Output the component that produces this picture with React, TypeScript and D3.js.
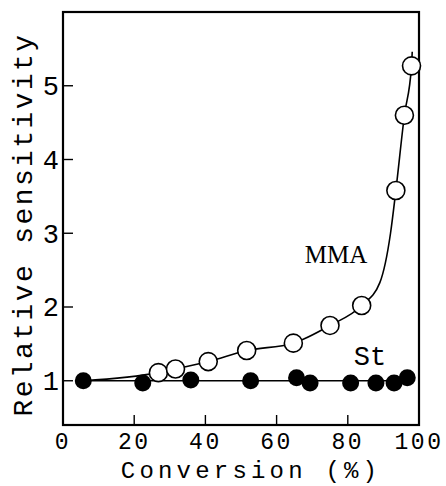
import React from 'react'
import * as d3 from 'd3'

// MMA (open circles)
const mmaConv = [26.8, 31.6, 40.8, 51.6, 64.7, 75.0, 83.9, 93.5, 95.9, 97.9]
const mmaSens = [1.11, 1.16, 1.26, 1.41, 1.51, 1.75, 2.02, 3.58, 4.6, 5.27]
// curve drawn through the MMA points
const mmaLineConv = [5.7, 26.8, 31.6, 40.8, 51.6, 64.7, 75.0, 83.9, 89.0, 92.0, 93.5, 95.9, 97.9, 98.1]
const mmaLineSens = [1.0, 1.11, 1.16, 1.26, 1.41, 1.51, 1.75, 2.02, 2.33, 3.0, 3.58, 4.6, 5.27, 5.46]

// St (filled circles)
const stConv = [5.7, 22.4, 35.9, 52.7, 65.6, 69.4, 80.8, 87.9, 93.0, 96.7]
const stSens = [1.0, 0.97, 1.01, 1.0, 1.04, 0.97, 0.97, 0.97, 0.97, 1.04]
const stLineConv = [5.7, 96.7]
const stLineSens = [1.0, 1.0]

const xTicks = [0, 20, 40, 60, 80, 100]
const yTicks = [1, 2, 3, 4, 5]

const width = 446
const height = 486
const margin = { top: 12, right: 27, bottom: 61, left: 63 }
const mono = "'Liberation Mono', 'DejaVu Sans Mono', monospace"
const serif = "'Liberation Serif', 'DejaVu Serif', serif"

export default function App() {
  const x = d3
    .scaleLinear()
    .domain([0, 100])
    .range([margin.left, width - margin.right])
  const y = d3
    .scaleLinear()
    .domain([0.4, 6.0])
    .range([height - margin.bottom, margin.top])

  const mmaLine = d3
    .line<number>()
    .x(i => x(mmaLineConv[i]))
    .y(i => y(mmaLineSens[i]))
    .curve(d3.curveMonotoneX)
  const stLine = d3
    .line<number>()
    .x(i => x(stLineConv[i]))
    .y(i => y(stLineSens[i]))

  const x0 = margin.left
  const x1 = width - margin.right
  const y0 = height - margin.bottom
  const y1 = margin.top

  return (
    <svg
      width={width}
      height={height}
      style={{ position: 'absolute', left: 0, top: 0, background: '#fff' }}
    >
      <rect x={0} y={0} width={width} height={height} fill="#fff" />
      {/* frame */}
      <rect
        x={x0}
        y={y1}
        width={x1 - x0}
        height={y0 - y1}
        fill="none"
        stroke="#000"
        strokeWidth={2.2}
      />
      {/* ticks */}
      {xTicks.slice(1, -1).map(t => (
        <line key={'xt' + t} x1={x(t)} x2={x(t)} y1={y0} y2={y0 - 10} stroke="#000" strokeWidth={1.4} />
      ))}
      {yTicks.map(t => (
        <line key={'yt' + t} x1={x0} x2={x0 + 10} y1={y(t)} y2={y(t)} stroke="#000" strokeWidth={1.4} />
      ))}
      {xTicks.map(t => (
        <text
          key={'xl' + t}
          x={x(t)}
          y={y0 + 24}
          textAnchor="middle"
          fontFamily={mono}
          fontSize={23}
          letterSpacing={2.5}
        >
          {t}
        </text>
      ))}
      {yTicks.map(t => (
        <text
          key={'yl' + t}
          x={x0 - 4}
          y={y(t)}
          dy="0.35em"
          textAnchor="end"
          fontFamily={mono}
          fontSize={27}
        >
          {t}
        </text>
      ))}
      {/* axis titles */}
      <text
        x={(x0 + x1) / 2 + 10}
        y={y0 + 53}
        textAnchor="middle"
        fontFamily={mono}
        fontSize={24}
        letterSpacing={4.2}
      >
        Conversion (%)
      </text>
      <text
        transform={`translate(32,${(y0 + y1) / 2 + 6}) rotate(-90)`}
        textAnchor="middle"
        fontFamily={mono}
        fontSize={28}
        letterSpacing={2.4}
      >
        Relative sensitivity
      </text>

      {/* lines */}
      <path d={stLine(d3.range(stLineConv.length)) || ''} fill="none" stroke="#000" strokeWidth={1.6} />
      <path d={mmaLine(d3.range(mmaLineConv.length)) || ''} fill="none" stroke="#000" strokeWidth={1.6} />

      {/* points */}
      {stConv.map((c, i) => (
        <circle key={'st' + i} cx={x(c)} cy={y(stSens[i])} r={8.5} fill="#000" />
      ))}
      {mmaConv.map((c, i) => (
        <circle
          key={'mma' + i}
          cx={x(c)}
          cy={y(mmaSens[i])}
          r={9}
          fill="#fff"
          stroke="#000"
          strokeWidth={1.6}
        />
      ))}

      {/* series labels */}
      <text x={336} y={263} textAnchor="middle" fontFamily={serif} fontSize={25}>
        MMA
      </text>
      <text x={370} y={365} textAnchor="middle" fontFamily={mono} fontSize={27}>
        St
      </text>
    </svg>
  )
}
